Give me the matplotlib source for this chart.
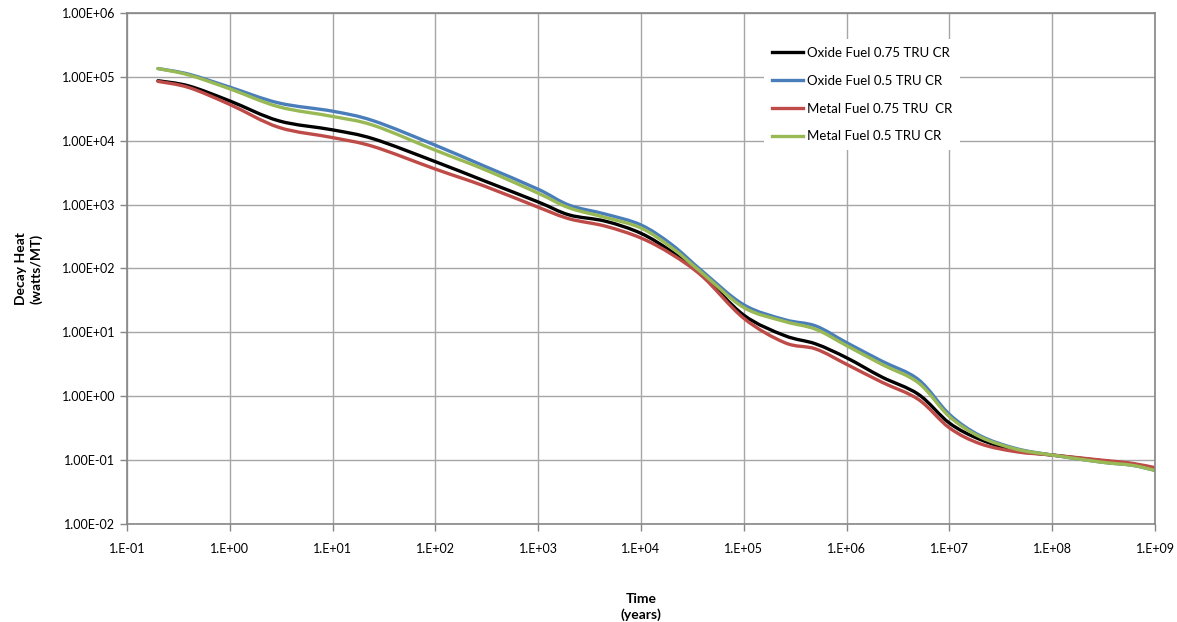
import math
import matplotlib
matplotlib.use("Agg")
import matplotlib.pyplot as plt
import numpy as np
from matplotlib.path import Path
from matplotlib.patches import PathPatch
from matplotlib.lines import Line2D
from matplotlib.ticker import FixedLocator, FuncFormatter, NullLocator

plt.rcParams['font.family'] = ['Lato', 'DejaVu Sans']

# time in years
time = [0.2, 0.4, 1, 3, 10, 25, 100, 300, 1e3, 2e3, 4.5e3, 1e4, 2e4, 4e4,
        1e5, 2.5e5, 5e5, 1e6, 2.2e6, 5e6, 1e7, 2e7, 4.5e7, 1e8, 3e8, 6e8, 1e9]

# decay heat, watts/MT
oxide_075 = [8.7e4, 7.2e4, 4.2e4, 2.05e4, 1.48e4, 1.07e4, 4.7e3, 2.35e3, 1.10e3,
             690, 550, 355, 182, 78, 18.6, 8.9, 6.6, 4.0, 2.0, 1.07, 0.38, 0.21,
             0.141, 0.120, 0.098, 0.087, 0.072]
oxide_05 = [1.35e5, 1.10e5, 6.9e4, 3.9e4, 2.9e4, 2.05e4, 8.5e3, 4.0e3, 1.74e3,
            980, 710, 480, 235, 89, 27, 15.8, 12.6, 6.9, 3.55, 1.82, 0.52, 0.24,
            0.151, 0.120, 0.093, 0.083, 0.069]
metal_075 = [8.5e4, 6.8e4, 3.7e4, 1.62e4, 1.12e4, 8.1e3, 3.6e3, 1.95e3, 910,
             600, 460, 300, 166, 74, 16.6, 6.9, 5.5, 3.16, 1.66, 0.89, 0.32, 0.18,
             0.135, 0.120, 0.100, 0.089, 0.076]
metal_05 = [1.35e5, 1.07e5, 6.5e4, 3.4e4, 2.4e4, 1.74e4, 7.1e3, 3.55e3, 1.51e3,
            890, 630, 430, 210, 83, 24.5, 14.8, 11.2, 6.2, 3.16, 1.62, 0.48, 0.23,
            0.148, 0.120, 0.093, 0.083, 0.069]

labels = ["Oxide Fuel 0.75 TRU CR", "Oxide Fuel 0.5 TRU CR",
          "Metal Fuel 0.75 TRU  CR", "Metal Fuel 0.5 TRU CR"]
colors = ["#000000", "#4A7EBB", "#BE4B48", "#98B954"]

x_ticks = [10.0**k for k in range(-1, 10)]
y_ticks = [10.0**k for k in range(-2, 7)]


def smooth_path(xs, ys):
    # excel-style smoothed line: bezier segments through the points (log space)
    lx = np.log10(xs)
    ly = np.log10(ys)
    n = len(lx)
    verts = [(lx[0], ly[0])]
    codes = [Path.MOVETO]
    for i in range(n - 1):
        p0 = (lx[max(i - 1, 0)], ly[max(i - 1, 0)])
        p1 = (lx[i], ly[i])
        p2 = (lx[i + 1], ly[i + 1])
        p3 = (lx[min(i + 2, n - 1)], ly[min(i + 2, n - 1)])
        c1 = (p1[0] + (p2[0] - p0[0]) / 6, p1[1] + (p2[1] - p0[1]) / 6)
        c2 = (p2[0] - (p3[0] - p1[0]) / 6, p2[1] - (p3[1] - p1[1]) / 6)
        verts += [c1, c2, p2]
        codes += [Path.CURVE4] * 3
    verts = [(10**a, 10**b) for a, b in verts]
    return Path(verts, codes)


fig = plt.figure(figsize=(11.77, 6.22), dpi=100)
ax = fig.add_axes([0.1079, 0.1576, 0.8734, 0.8215])

handles = []
for y, lab, c in zip([oxide_075, oxide_05, metal_075, metal_05], labels, colors):
    ax.add_patch(PathPatch(smooth_path(time, y), facecolor='none', edgecolor=c,
                           lw=2.4, capstyle='round', joinstyle='round'))
    handles.append(Line2D([], [], color=c, lw=2.4, label=lab))

ax.set_xscale('log')
ax.set_yscale('log')
ax.set_xlim(0.1, 1e9)
ax.set_ylim(1e-2, 1e6)

ax.xaxis.set_major_locator(FixedLocator(x_ticks))
ax.yaxis.set_major_locator(FixedLocator(y_ticks))
ax.xaxis.set_minor_locator(NullLocator())
ax.yaxis.set_minor_locator(NullLocator())
ax.xaxis.set_major_formatter(FuncFormatter(lambda v, p: "1.E%+03d" % round(math.log10(v))))
ax.yaxis.set_major_formatter(FuncFormatter(lambda v, p: "1.00E%+03d" % round(math.log10(v))))

ax.grid(True, color='#A6A6A6', lw=1.0)
ax.set_axisbelow(True)
for s in ax.spines.values():
    s.set_color('#868686')
    s.set_linewidth(1.2)
ax.tick_params(axis='both', colors='#868686', labelcolor='black', labelsize=9,
               length=5, width=1)
ax.tick_params(axis='x', pad=9)

ax.set_xlabel("Time\n(years)", fontsize=10, fontweight='bold', labelpad=27,
              linespacing=1.3)
ax.set_ylabel("Decay Heat\n(watts/MT)", fontsize=10, fontweight='bold', labelpad=14)

leg = ax.legend(handles=handles, loc='upper left', bbox_to_anchor=(0.613, 0.962),
                frameon=True, fontsize=9.5, handlelength=2.4, labelspacing=1.2,
                handletextpad=0.3, borderpad=0.6, fancybox=False)
leg.get_frame().set_edgecolor('none')
leg.get_frame().set_facecolor('white')
leg.get_frame().set_alpha(1)

fig.savefig("out.png", dpi=100)
